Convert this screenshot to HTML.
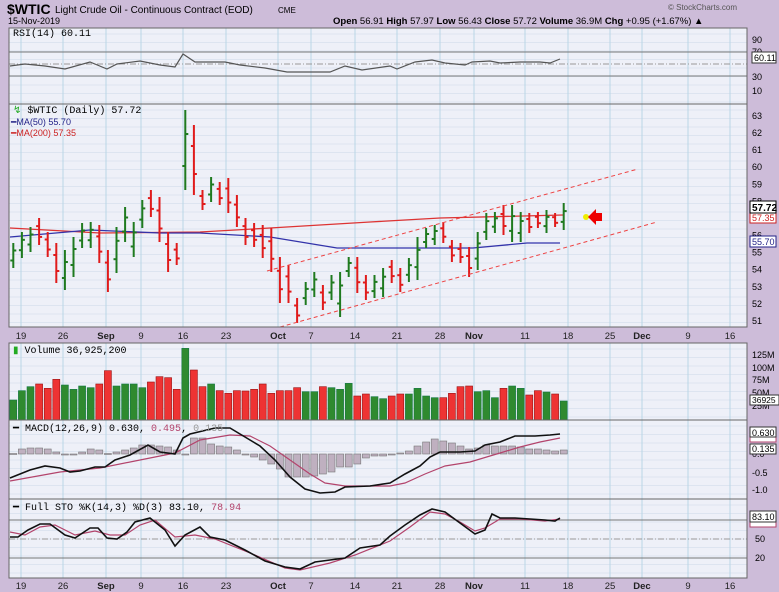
<!DOCTYPE html>
<html><head><meta charset="utf-8">
<style>
body{margin:0;background:#cdbcd9;}
svg{display:block;font-family:"Liberation Sans",sans-serif;}
</style></head><body>
<svg id="s" width="779" height="592" xmlns="http://www.w3.org/2000/svg"></svg>
<script>
const S=document.getElementById('s');let h='';
const L=9,R=747;
h+=`<rect width="779" height="592" fill="#cdbcd9"/>`;
// header
h+=`<text x="7" y="14" font-size="14" font-weight="bold">$WTIC</text><text x="55" y="13" font-size="10">Light Crude Oil - Continuous Contract (EOD)</text><text x="278" y="13" font-size="8">CME</text>`;
h+=`<text x="8" y="24" font-size="9">15-Nov-2019</text>`;
h+=`<text x="668" y="10" font-size="8" fill="#555">© StockCharts.com</text>`;
h+=`<text x="333" y="24" font-size="9.5"><tspan font-weight="bold">Open</tspan> 56.91 <tspan font-weight="bold">High</tspan> 57.97 <tspan font-weight="bold">Low</tspan> 56.43 <tspan font-weight="bold">Close</tspan> 57.72 <tspan font-weight="bold">Volume</tspan> 36.9M <tspan font-weight="bold">Chg</tspan> +0.95 (+1.67%) ▲</text>`;
const panels=[[28,104],[104,327],[343,420],[420,499],[499,578]];
const vx=[21,63,106,141,183,226,278,311,355,397,440,474,525,568,610,642,688,730];
panels.forEach(([a,b])=>{
 h+=`<rect x="${L}" y="${a}" width="${R-L}" height="${b-a}" fill="#eef0f8"/>`;
 for(let y=a+6;y<b;y+=8.5)h+=`<line x1="${L}" x2="${R}" y1="${y}" y2="${y}" stroke="#dde4f0" stroke-width="1"/>`;
 vx.forEach(x=>h+=`<line x1="${x}" x2="${x}" y1="${a}" y2="${b}" stroke="#b9d6e6" stroke-width="1"/>`);
});
// date strips
function dates(y){const t=['19','26','Sep','9','16','23','Oct','7','14','21','28','Nov','11','18','25','Dec','9','16'];
 t.forEach((s,i)=>{const b=isNaN(+s);h+=`<text x="${vx[i]}" y="${y}" font-size="9.5" text-anchor="middle" ${b?'font-weight="bold"':''} fill="#222">${s}</text>`;});}
dates(339);dates(589);
const pl=(pts,c,w,ex='')=>`<polyline points="${pts.map(p=>p.join(',')).join(' ')}" fill="none" stroke="${c}" stroke-width="${w}" ${ex}/>`;
// RSI
h+=`<line x1="${L}" x2="${R}" y1="52" y2="52" stroke="#777"/><line x1="${L}" x2="${R}" y1="76" y2="76" stroke="#777"/><line x1="${L}" x2="${R}" y1="64" y2="64" stroke="#999" stroke-dasharray="6,2,1,2"/>`;
h+=pl([[10,66],[25,64],[45,66],[65,69],[90,62],[107,69],[117,64],[140,61],[160,65],[175,67],[183,54],[195,62],[225,62],[240,65],[265,68],[287,72],[330,72],[345,66],[362,70],[390,66],[397,69],[415,62],[432,60],[445,63],[465,65],[472,62],[490,61],[500,63],[520,62],[540,62],[550,63],[560,59]],'#555',1.2);
h+=`<text x="13" y="36" font-size="10" font-family="Liberation Mono">RSI(14) 60.11</text>`;
[[90,40],[70,52],[30,77],[10,91]].forEach(([v,y])=>h+=`<text x="752" y="${y+3}" font-size="9">${v}</text>`);
h+=`<rect x="752" y="52" width="24" height="11" fill="#fff" stroke="#333"/><text x="754" y="61" font-size="9">60.11</text>`;
// price
const yp=p=>116+17.08*(63-p);
for(let p=51;p<=63;p++)h+=`<text x="752" y="${yp(p)+3}" font-size="9">${p}</text>`;
const bars=[[243,268,1],[232,258,1],[227,252,1],[218,245,0],[232,257,0],[243,283,0],[250,290,1],[237,277,1],[223,248,1],[222,248,1],[225,263,0],[250,292,0],[227,273,1],[207,242,1],[222,257,1],[200,228,1],[190,217,0],[197,242,0],[232,272,0],[243,265,0],[110,190,1],[125,195,0],[190,210,0],[177,202,1],[182,205,0],[178,213,0],[195,227,0],[218,245,0],[223,247,0],[225,258,0],[228,272,0],
[257,303,0],[265,303,0],[298,323,0],[282,305,1],[272,297,1],[285,310,0],[275,300,1],[272,317,1],[257,277,1],[257,293,0],[275,300,0],[275,298,1],[268,297,1],[260,283,0],[268,292,0],[258,282,1],[237,280,1],[228,248,1],[225,245,1],[222,243,0],[240,262,0],[243,263,0],[247,277,0],[232,270,1],[213,240,1],[212,233,1],[205,235,0],[205,242,1],[212,242,1],[213,233,0],[212,228,0],[210,233,1],[213,227,0],[203,230,1]];
const bx=k=>13.3+8.6*k;
h+=pl([[10,228],[100,233],[200,232],[270,228],[370,222],[440,218],[563,215]],'#d33',1.3);
h+=pl([[10,237],[90,230],[160,233],[200,233],[270,237],[337,248],[437,248],[473,248],[527,243],[560,243]],'#33a',1.3);
bars.forEach(([hi,lo,g],k)=>{const x=bx(k),c=g?'#1f7a1f':'#e01b1b',r=lo-hi;
 const o=g?lo-0.3*r:hi+0.3*r,cl=g?hi+0.3*r:lo-0.3*r;
 h+=`<line x1="${x}" x2="${x}" y1="${hi}" y2="${lo}" stroke="${c}" stroke-width="2"/><line x1="${x-3}" x2="${x}" y1="${o}" y2="${o}" stroke="${c}" stroke-width="2"/><line x1="${x}" x2="${x+3}" y1="${cl}" y2="${cl}" stroke="${c}" stroke-width="2"/>`;});
h+=`<line x1="267" y1="271" x2="638" y2="169" stroke="#e44" stroke-dasharray="4,3"/><line x1="280" y1="327" x2="657" y2="222" stroke="#e44" stroke-dasharray="4,3"/>`;
h+=`<circle cx="586" cy="217" r="3" fill="#ee0"/><polygon points="588,217 596,209 596,213 602,213 602,221 596,221 596,225" fill="#e00"/>`;
h+=`<text x="13" y="113" font-size="10" font-family="Liberation Mono"><tspan fill="#2a2">↯</tspan> $WTIC (Daily) 57.72</text>`;
h+=`<text x="11" y="125" font-size="9" fill="#228">━MA(50) 55.70</text><text x="11" y="136" font-size="9" fill="#c22">━MA(200) 57.35</text>`;
h+=`<rect x="750" y="213" width="26" height="10" fill="#fff" stroke="#c22"/><text x="752" y="221" font-size="9" fill="#c22">57.35</text>`;
h+=`<rect x="750" y="201" width="26" height="12" fill="#fff" stroke="#000"/><text x="752" y="211" font-size="10" font-weight="bold">57.72</text>`;
h+=`<rect x="750" y="236" width="26" height="11" fill="#fff" stroke="#228"/><text x="752" y="245" font-size="9" fill="#228">55.70</text>`;
// volume
const vt=[240,212,200,192,205,178,195,208,198,203,192,152,198,192,192,203,186,170,173,208,85,150,200,192,212,220,212,213,208,192,220,212,212,203,215,215,200,203,208,190,228,222,230,236,228,222,222,205,228,233,233,220,200,198,215,212,233,205,198,205,225,212,216,222,243];
vt.forEach((t,k)=>{const y=320+t/3,g=bars[k][2];h+=`<rect x="${bx(k)-3.5}" y="${y}" width="7" height="${420-y}" fill="${g?'#2f8a2f':'#e33'}" stroke="${g?'#174'+'':'#911'}" stroke-width="0.6"/>`;});
h+=`<text x="13" y="353" font-size="10" font-family="Liberation Mono"><tspan fill="#2a2">▮</tspan> Volume 36,925,200</text>`;
[['125M',355],['100M',368],['75M',380],['50M',393],['25M',406]].forEach(([v,y])=>h+=`<text x="752" y="${y+3}" font-size="9">${v}</text>`);
h+=`<rect x="750" y="395" width="29" height="10" fill="#fff" stroke="#333"/><text x="752" y="403" font-size="8.5">36925</text>`;
// MACD
const hd=[-0.5,-5,-6,-6,-5,-2,1,1,-2,-5,-4,-0.5,-2,-4,-6,-9,-9,-8,-7,-4,0.5,-16,-16,-10,-8,-7,-4,1,3,6,10,15,23,23,23,22,20,18,13,13,10,4,2,2,0,-1,-3,-8,-12,-15,-13,-11,-8,-5,-6,-9,-8,-8,-8,-7,-5,-5,-4,-3,-4];
hd.forEach((d,k)=>{const y=d<0?454+d:454;h+=`<rect x="${bx(k)-3.5}" y="${y}" width="7" height="${Math.max(Math.abs(d),1)}" fill="#bfb0c0" stroke="#777" stroke-width="0.6"/>`;});
h+=pl([[10,481],[60,472],[100,468],[140,460],[175,453],[200,440],[230,435],[250,436],[270,446],[290,460],[310,474],[325,483],[345,486],[390,486],[405,483],[425,474],[445,466],[470,462],[500,453],[520,447],[540,442],[560,438]],'#b3446c',1.2);
h+=pl([[10,478],[30,470],[45,466],[60,468],[70,472],[80,471],[95,467],[105,467],[115,460],[130,455],[148,445],[160,452],[175,454],[183,438],[190,434],[215,428],[230,428],[245,437],[260,446],[275,460],[290,477],[305,489],[320,493],[335,492],[345,487],[370,486],[390,483],[405,474],[420,466],[430,457],[440,452],[460,452],[475,451],[485,445],[500,442],[515,436],[535,436],[550,435],[560,434]],'#111',1.6);
h+=`<text x="13" y="431" font-size="10" font-family="Liberation Mono">━ MACD(12,26,9) 0.630, <tspan fill="#b3446c">0.495</tspan>, <tspan fill="#999">0.135</tspan></text>`;
[['0.0',454],['-0.5',473],['-1.0',490]].forEach(([v,y])=>h+=`<text x="752" y="${y+3}" font-size="9">${v}</text>`);
h+=`<rect x="750" y="432" width="26" height="10" fill="#fff" stroke="#b3446c"/><rect x="750" y="427" width="26" height="10" fill="#fff" stroke="#333"/><text x="752" y="436" font-size="9">0.630</text>`;
h+=`<rect x="750" y="444" width="26" height="10" fill="#fff" stroke="#333"/><text x="752" y="452" font-size="9">0.135</text>`;
// STO
h+=`<line x1="${L}" x2="${R}" y1="520" y2="520" stroke="#777"/><line x1="${L}" x2="${R}" y1="558" y2="558" stroke="#777"/><line x1="${L}" x2="${R}" y1="539" y2="539" stroke="#999" stroke-dasharray="6,2,1,2"/>`;
h+=pl([[10,532],[25,535],[40,527],[55,525],[75,535],[95,531],[110,535],[125,535],[140,525],[155,520],[175,537],[195,535],[215,539],[250,553],[285,568],[300,570],[330,563],[355,555],[390,541],[410,527],[430,512],[445,514],[460,522],[475,531],[485,528],[500,519],[520,519],[545,521],[560,519]],'#b3446c',1.2);
h+=pl([[10,537],[18,537],[28,530],[40,524],[50,524],[65,535],[75,538],[90,528],[98,528],[107,538],[117,539],[127,532],[135,522],[150,518],[165,530],[175,546],[185,535],[200,527],[210,537],[225,540],[245,550],[265,561],[285,567],[300,569],[315,562],[330,560],[345,558],[360,548],[380,545],[390,536],[405,525],[420,515],[432,509],[445,512],[460,523],[475,534],[485,530],[492,514],[500,518],[515,518],[530,519],[545,520],[555,521],[560,518]],'#111',1.6);
h+=`<text x="13" y="510" font-size="10" font-family="Liberation Mono">━ Full STO %K(14,3) %D(3) 83.10, <tspan fill="#b3446c">78.94</tspan></text>`;
[['50',539],['20',558]].forEach(([v,y])=>h+=`<text x="755" y="${y+3}" font-size="9">${v}</text>`);
h+=`<rect x="750" y="519" width="26" height="8" fill="#fff" stroke="#b3446c"/><rect x="750" y="511" width="26" height="11" fill="#fff" stroke="#333"/><text x="752" y="520" font-size="9">83.10</text>`;
// borders
panels.forEach(([a,b])=>h+=`<rect x="${L}" y="${a}" width="${R-L}" height="${b-a}" fill="none" stroke="#666"/>`);
S.innerHTML=h;
</script>
</body></html>
